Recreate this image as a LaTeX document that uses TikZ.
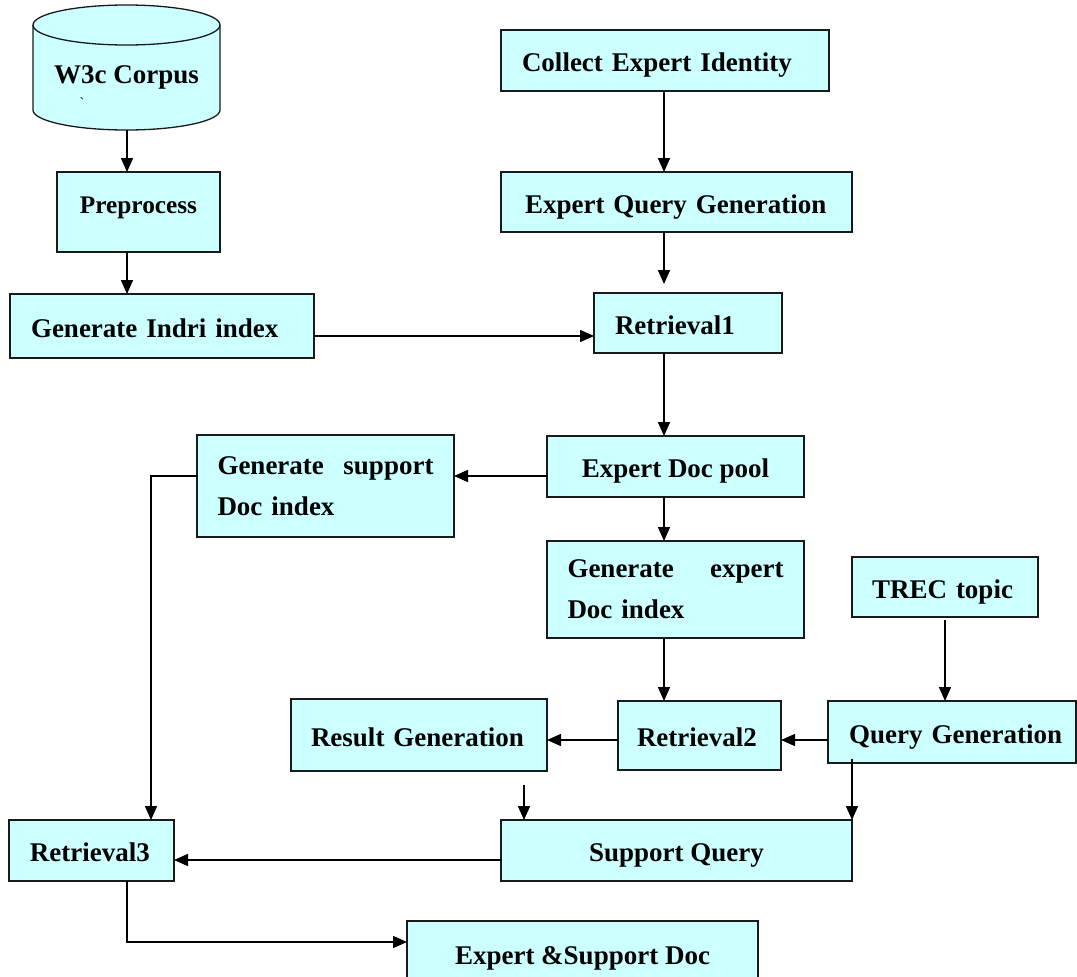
\documentclass[tikz,border=0pt]{standalone}
\usepackage{fontspec}
\setmainfont{Liberation Serif}
\newfontfamily\rawserif[Ligatures=TeXOff]{Liberation Serif}
\usetikzlibrary{arrows.meta}
\definecolor{boxfill}{HTML}{CCFFFF}
\definecolor{edgec}{HTML}{1A1A1A}
\newcommand\bxfont{\fontsize{27}{41}\selectfont\bfseries}
\begin{document}
\begin{tikzpicture}[x=1pt,y=-1pt,
  box/.style={draw=edgec, fill=boxfill, line width=1.3pt, font=\bxfont, inner ysep=0pt, outer sep=0pt},
  one/.style={text height=24pt, text depth=1.2pt},
  arr/.style={draw=black, line width=1.5pt, -{Triangle[length=14pt,width=12pt]}}]
\useasboundingbox (0,0) rectangle (1077,977);
% cylinder
\path[fill=boxfill, draw=edgec, line width=1.3pt] (33,25) -- (33,110)
  arc[start angle=180,end angle=360,x radius=93.5pt,y radius=20pt] -- (220,25)
  arc[start angle=0,end angle=180,x radius=93.5pt,y radius=20pt] -- cycle;
\draw[edgec, line width=1.3pt] (33,25) arc[start angle=180,end angle=360,x radius=93.5pt,y radius=20pt];
\node[font=\bxfont, inner sep=0pt, one] (cyl) at (126.5,72) {W3c Corpus};
\node[font=\rawserif\fontsize{14}{14}\selectfont, inner sep=0pt] (tick) at (82,103) {`};
\coordinate (cylb) at (127,130);
% boxes
\node[box, minimum width=163pt, minimum height=80pt, font=\fontsize{25.3}{38}\selectfont\bfseries,
  text height=14pt, text depth=11.4pt] (pre) at (138.5,212) {Preprocess};
\node[box, one, minimum width=304pt, minimum height=64pt, text width=262pt, inner xsep=21pt, align=left] (indri) at (162,326) {Generate Indri index};
\node[box, one, minimum width=328pt, minimum height=61pt, text width=286pt, inner xsep=21pt, align=left] (collect) at (665,60.5) {Collect Expert Identity};
\node[box, one, minimum width=351pt, minimum height=60pt, text width=303pt, inner xsep=24pt, align=left] (eqg) at (676.5,202) {Expert Query Generation};
\node[box, one, minimum width=188pt, minimum height=60pt, text width=146pt, inner xsep=21pt, align=left] (r1) at (688,323) {Retrieval1};
\node[box, one, minimum width=257pt, minimum height=61pt] (edp) at (675.5,466.5) {Expert Doc pool};
\node[box, minimum width=257pt, minimum height=102pt, text width=216pt, inner xsep=20.5pt, align=left] (gsdi) at (325.5,486) {Generate\hfill support\\Doc index};
\node[box, minimum width=257pt, minimum height=97pt, text width=216pt, inner xsep=20.5pt, align=left] (gedi) at (675.5,589.5) {Generate\hfill expert\\Doc index};
\node[box, one, minimum width=186pt, minimum height=60pt, text width=146pt, inner xsep=20pt, align=left] (trec) at (945,587) {TREC topic};
\node[box, one, minimum width=256pt, minimum height=72pt, text width=216pt, inner xsep=20pt, align=left] (resgen) at (419,735) {Result Generation};
\node[box, one, minimum width=163pt, minimum height=69pt, text width=125pt, inner xsep=19pt, align=left] (r2) at (699.5,735.5) {Retrieval2};
\node[box, one, minimum width=248pt, minimum height=62pt, text width=220pt, inner xsep=14pt, align=right] (qgen) at (952,732) {Query Generation};
\node[box, one, minimum width=351pt, minimum height=61pt] (sq) at (676.5,850.5) {Support Query};
\node[box, one, minimum width=165pt, minimum height=61pt, text width=123pt, inner xsep=21pt, align=left] (r3) at (91.5,850.5) {Retrieval3};
\node[box, one, minimum width=351pt, minimum height=64pt] (esd) at (582.5,953) {Expert \&Support Doc};
% helper coordinates
\coordinate (ax) at (127,0);
\coordinate (mx) at (664,0);
\coordinate (lx) at (151,0);
\coordinate (tx) at (945,0);
\coordinate (rgx) at (524,0);
\coordinate (ry) at (0,740);
% connectors
\draw[arr] (cylb) -- (pre.north -| ax);
\draw[arr] (pre.south -| ax) -- (indri.north -| ax);
\draw[arr] ([yshift=-10pt]indri.east) -- ([yshift=-10pt]indri.east -| r1.west);
\draw[arr] (collect.south -| mx) -- (eqg.north -| mx);
\draw[arr, shorten >=9pt] (eqg.south -| mx) -- (r1.north -| mx);
\draw[arr] (r1.south -| mx) -- (edp.north -| mx);
\draw[arr] ([yshift=-9.5pt]edp.west) -- ([yshift=-9.5pt]edp.west -| gsdi.east);
\draw[arr] ([yshift=10pt]gsdi.west) -| (r3.north -| lx);
\draw[arr] (edp.south -| mx) -- (gedi.north -| mx);
\draw[arr] (gedi.south -| mx) -- (r2.north -| mx);
\draw[arr, shorten <=3pt] (trec.south -| tx) -- (qgen.north -| tx);
\draw[arr] (qgen.west |- ry) -- (r2.east |- ry);
\draw[arr] (r2.west |- ry) -- (resgen.east |- ry);
\draw[arr, shorten <=14pt] (resgen.south -| rgx) -- (sq.north -| rgx);
\draw[arr, shorten <=-4pt] (qgen.south -| sq.east) -- (sq.north east);
\draw[arr] ([yshift=-9.5pt]sq.west) -- ([yshift=-9.5pt]sq.west -| r3.east);
\draw[arr] (r3.south -| ax) |- ([yshift=11pt]esd.west);
\end{tikzpicture}
\end{document}
